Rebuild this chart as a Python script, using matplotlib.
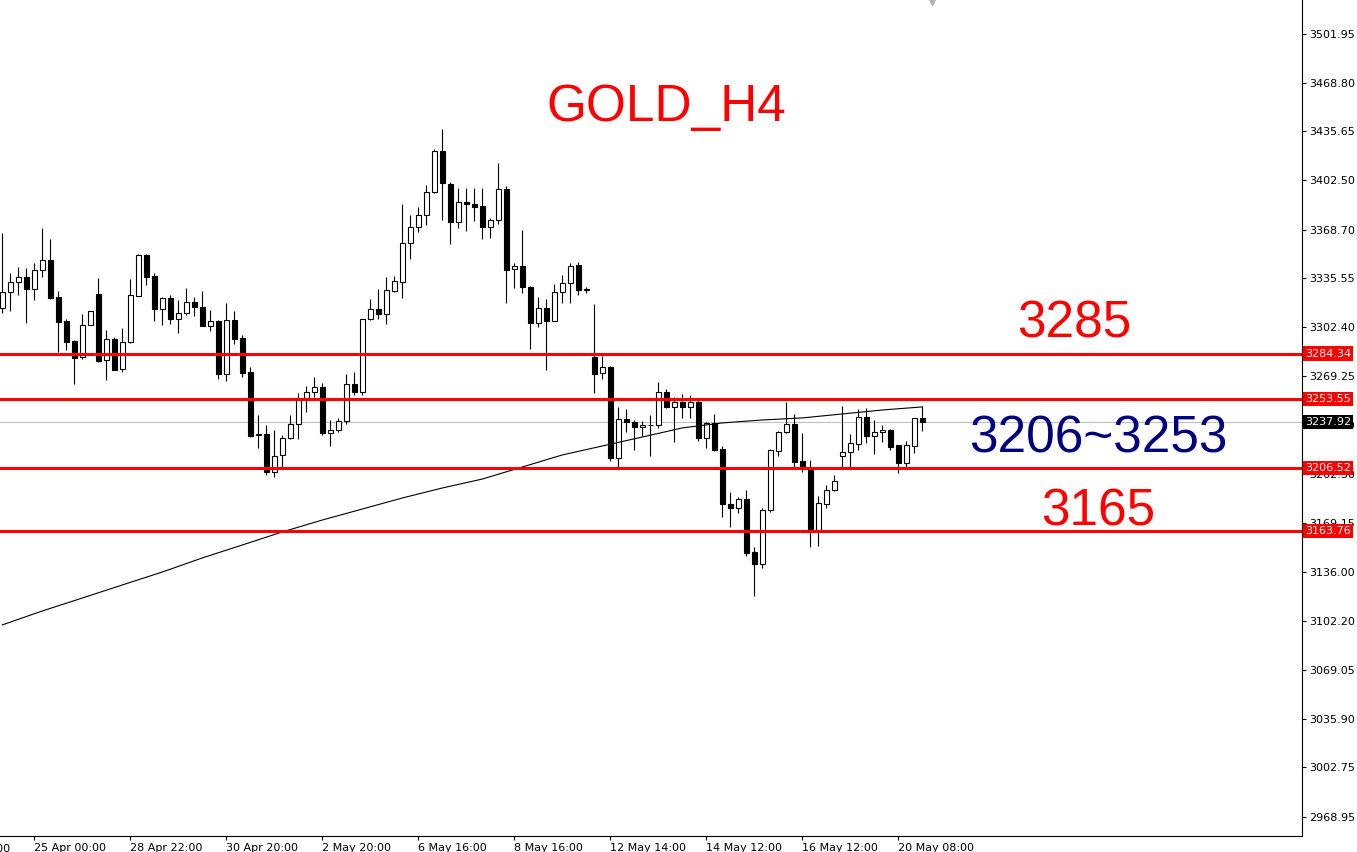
import matplotlib
matplotlib.use('Agg')
import matplotlib.pyplot as plt
from matplotlib import transforms

# H4 candles, oldest first
opens = [3315.2, 3326.1, 3332.9, 3336.3, 3328.6, 3341.1, 3347.9, 3322.7, 3306.6, 3293.0,
         3281.9, 3303.7, 3325.0, 3279.8, 3294.3, 3273.7, 3292.1, 3323.8, 3351.5, 3337.2,
         3315.0, 3322.0, 3308.2, 3311.8, 3319.3, 3315.9, 3303.4, 3306.6, 3270.7, 3307.1,
         3294.8, 3271.7, 3229.0, 3229.5, 3204.0, 3215.2, 3226.7, 3236.3, 3254.2, 3258.1,
         3261.7, 3230.6, 3232.6, 3238.7, 3263.5, 3258.5, 3307.8, 3314.6, 3311.2, 3327.2,
         3333.3, 3359.5, 3370.4, 3378.5, 3394.2, 3422.1, 3399.6, 3374.2, 3387.4, 3386.2,
         3384.9, 3370.8, 3375.6, 3396.2, 3341.8, 3343.8, 3329.7, 3305.0, 3315.2, 3306.8,
         3326.1, 3332.3, 3344.5, 3327.9, 3281.9, 3271.0, 3275.3, 3213.5, 3239.7, 3238.1,
         3234.2, 3235.6, 3235.6, 3258.1, 3248.3, 3251.7, 3248.3, 3251.7, 3227.2, 3237.0,
         3219.3, 3181.8, 3179.1, 3185.2, 3149.2, 3141.0, 3177.9, 3218.3, 3230.8, 3236.5,
         3211.3, 3205.9, 3163.7, 3181.8, 3191.4, 3214.9, 3217.2, 3222.7, 3241.0, 3228.5,
         3230.8, 3232.4, 3222.0, 3210.1, 3221.7, 3240.4]
highs = [3366.3, 3339.1, 3343.2, 3342.5, 3346.1, 3369.9, 3362.4, 3327.0, 3307.8, 3293.5,
         3311.4, 3313.4, 3335.7, 3300.5, 3295.5, 3301.6, 3335.0, 3352.2, 3352.0, 3339.3,
         3322.9, 3324.1, 3320.7, 3329.1, 3322.7, 3327.0, 3314.1, 3307.1, 3318.8, 3313.4,
         3296.9, 3275.1, 3242.6, 3235.8, 3232.2, 3228.8, 3242.6, 3257.4, 3262.1, 3268.5,
         3264.2, 3239.0, 3240.4, 3270.5, 3271.9, 3308.0, 3321.6, 3328.4, 3336.3, 3337.4,
         3386.2, 3378.7, 3384.0, 3399.2, 3423.7, 3437.3, 3401.0, 3397.3, 3397.3, 3397.3,
         3396.9, 3376.9, 3413.9, 3398.5, 3345.9, 3368.5, 3330.2, 3323.1, 3321.8, 3331.6,
         3337.7, 3345.9, 3347.0, 3329.9, 3318.2, 3282.6, 3276.0, 3247.9, 3246.7, 3239.2,
         3238.7, 3242.6, 3265.1, 3260.3, 3254.7, 3256.9, 3256.2, 3254.0, 3238.1, 3243.3,
         3221.5, 3190.0, 3187.0, 3191.6, 3152.6, 3179.1, 3219.5, 3231.9, 3251.7, 3243.3,
         3230.2, 3212.0, 3187.3, 3194.8, 3201.8, 3248.7, 3229.5, 3246.5, 3247.6, 3239.2,
         3235.8, 3232.9, 3222.2, 3224.9, 3240.8, 3248.7]
lows = [3312.2, 3313.6, 3324.5, 3305.4, 3320.9, 3336.8, 3321.5, 3285.7, 3286.9, 3263.9,
        3280.5, 3303.7, 3278.9, 3266.6, 3273.0, 3272.1, 3291.6, 3323.3, 3331.3, 3306.8,
        3304.1, 3304.8, 3298.6, 3310.9, 3310.0, 3303.0, 3300.0, 3267.3, 3266.0, 3291.1,
        3268.5, 3227.8, 3220.3, 3202.0, 3200.6, 3207.4, 3226.1, 3226.5, 3244.7, 3255.1,
        3229.2, 3221.7, 3231.2, 3236.5, 3256.0, 3256.0, 3307.5, 3308.2, 3304.8, 3326.3,
        3322.5, 3349.0, 3367.2, 3371.9, 3393.8, 3375.6, 3359.2, 3370.0, 3368.1, 3374.7,
        3362.6, 3363.3, 3372.6, 3319.1, 3329.3, 3325.9, 3287.7, 3302.7, 3273.4, 3306.3,
        3319.1, 3319.1, 3324.5, 3325.9, 3257.8, 3267.3, 3211.5, 3206.3, 3231.2, 3218.8,
        3228.3, 3214.7, 3234.0, 3247.6, 3224.4, 3240.8, 3240.8, 3224.9, 3220.4, 3218.1,
        3173.4, 3166.6, 3176.1, 3146.8, 3119.6, 3138.3, 3176.4, 3214.9, 3230.3, 3206.7,
        3204.0, 3153.0, 3153.6, 3179.5, 3191.0, 3206.3, 3206.3, 3218.8, 3223.3, 3216.1,
        3224.4, 3218.8, 3203.3, 3206.7, 3216.9, 3231.9]
closes = [3326.1, 3332.9, 3336.3, 3328.6, 3341.1, 3347.9, 3322.0, 3306.1, 3292.5, 3281.6,
          3303.7, 3313.4, 3279.4, 3294.3, 3273.4, 3292.1, 3324.1, 3351.5, 3336.8, 3315.0,
          3322.0, 3308.2, 3311.8, 3319.3, 3315.9, 3303.4, 3306.6, 3270.7, 3307.1, 3294.5,
          3271.4, 3228.5, 3229.4, 3204.0, 3214.9, 3226.7, 3236.5, 3254.2, 3258.1, 3261.7,
          3230.6, 3232.2, 3238.3, 3263.5, 3258.5, 3307.8, 3314.6, 3311.2, 3327.5, 3333.6,
          3359.5, 3370.4, 3378.5, 3394.4, 3422.1, 3400.3, 3374.2, 3387.4, 3386.0, 3384.4,
          3370.8, 3375.6, 3396.2, 3341.5, 3343.8, 3329.5, 3305.4, 3315.2, 3306.8, 3326.1,
          3332.3, 3343.8, 3327.9, 3328.2, 3270.7, 3275.1, 3213.5, 3239.7, 3238.1, 3234.2,
          3235.6, 3236.0, 3258.1, 3248.3, 3251.7, 3248.3, 3251.7, 3227.2, 3237.0, 3218.8,
          3181.8, 3179.5, 3185.2, 3148.9, 3141.0, 3177.9, 3218.8, 3230.8, 3236.5, 3210.8,
          3206.7, 3163.7, 3182.5, 3191.4, 3197.5, 3217.2, 3223.4, 3241.0, 3228.5, 3230.8,
          3232.4, 3221.0, 3210.1, 3222.0, 3240.4, 3237.92]

# long moving average, sampled every 5 candles
ma_idx = list(range(0, 116, 5))
ma_val = [3099.7, 3109.2, 3118.0, 3126.9, 3135.7, 3145.3, 3154.1, 3163.0, 3171.1, 3178.6,
          3186.1, 3192.9, 3199.0, 3207.2, 3215.4, 3221.5, 3227.6, 3233.8, 3237.2, 3239.2,
          3240.6, 3243.3, 3246.0, 3248.1]

# horizontal levels
levels = [3284.34, 3253.55, 3206.52, 3163.76]
bid = 3237.92

yticks = [3501.95, 3468.80, 3435.65, 3402.50, 3368.70, 3335.55, 3302.40, 3269.25, 3236.10,
          3202.30, 3169.15, 3136.00, 3102.20, 3069.05, 3035.90, 3002.75, 2968.95]
xtick_idx = [4, 16, 28, 40, 52, 64, 76, 88, 100, 112]
xtick_lab = ['25 Apr 00:00', '28 Apr 22:00', '30 Apr 20:00', '2 May 20:00', '6 May 16:00',
             '8 May 16:00', '12 May 14:00', '14 May 12:00', '16 May 12:00', '20 May 08:00']

W, H = 1357, 852
fig = plt.figure(figsize=(W / 100, H / 100), dpi=100)
ax = fig.add_axes([0, 16 / H, 1302 / W, 836 / H])

x = list(range(len(opens)))
# wicks
ax.vlines(x, lows, highs, color='black', linewidth=0.8, zorder=2)
# bodies
for i in x:
    o, c = opens[i], closes[i]
    fc = 'white' if c >= o else 'black'
    ax.bar(i, abs(c - o), width=0.62, bottom=min(o, c), color=fc,
           edgecolor='black', linewidth=0.8, zorder=3)

ax.plot(ma_idx, ma_val, color='black', linewidth=0.8, zorder=4)

ax.axhline(bid, color='#c0c0c0', linewidth=0.8, zorder=1)
for lv in levels:
    ax.axhline(lv, color='red', linewidth=2.2, zorder=5)

ax.set_xlim(-0.29, 162.46)
ax.set_ylim(2956.0, 3525.1)

# frame like the terminal: right and bottom only
for s in ['top', 'left']:
    ax.spines[s].set_visible(False)
ax.spines['right'].set_linewidth(0.8)
ax.spines['bottom'].set_linewidth(0.8)

ax.yaxis.tick_right()
ax.set_yticks(yticks)
ax.set_yticklabels(['%.2f' % v for v in yticks])
ax.set_xticks(xtick_idx)
ax.set_xticklabels(xtick_lab, ha='left')
ax.tick_params(axis='both', length=3, width=0.8, labelsize=8, pad=2)
# first label cut by the left edge
ax.text(-8, -0.009, '23 Apr 08:00', fontsize=8, ha='left', va='top',
        transform=transforms.blended_transform_factory(ax.transData, ax.transAxes),
        clip_on=False)

# chart shift marker at the top
ax.plot([116.2], [1.0], marker='v', markersize=7, color='#b4b4b4', clip_on=False,
        transform=transforms.blended_transform_factory(ax.transData, ax.transAxes))

# price labels on the scale
for lv in levels:
    ax.annotate('%.2f' % lv, xy=(1, lv), xycoords=('axes fraction', 'data'),
                xytext=(2, 0), textcoords='offset points', ha='left', va='center',
                fontsize=8, color='white', zorder=6,
                bbox=dict(boxstyle='square,pad=0.2', fc='red', ec='none'))
ax.annotate('%.2f' % bid, xy=(1, bid), xycoords=('axes fraction', 'data'),
            xytext=(2, 0), textcoords='offset points', ha='left', va='center',
            fontsize=8, color='white', zorder=6,
            bbox=dict(boxstyle='square,pad=0.2', fc='black', ec='none'))

# big annotations
fnt = 'Liberation Sans'
fig.text(666 / W, 1 - 121 / H, 'GOLD_H4', color='red', fontsize=37, family=fnt,
         ha='center', va='baseline')
fig.text(1074 / W, 1 - 337 / H, '3285', color='red', fontsize=37, family=fnt,
         ha='center', va='baseline')
fig.text(1098 / W, 1 - 453 / H, '3206~3253', color='#000080', fontsize=37, family=fnt,
         ha='center', va='baseline')
fig.text(1098 / W, 1 - 525 / H, '3165', color='red', fontsize=37, family=fnt,
         ha='center', va='baseline')

fig.savefig('out.png', dpi=100)
